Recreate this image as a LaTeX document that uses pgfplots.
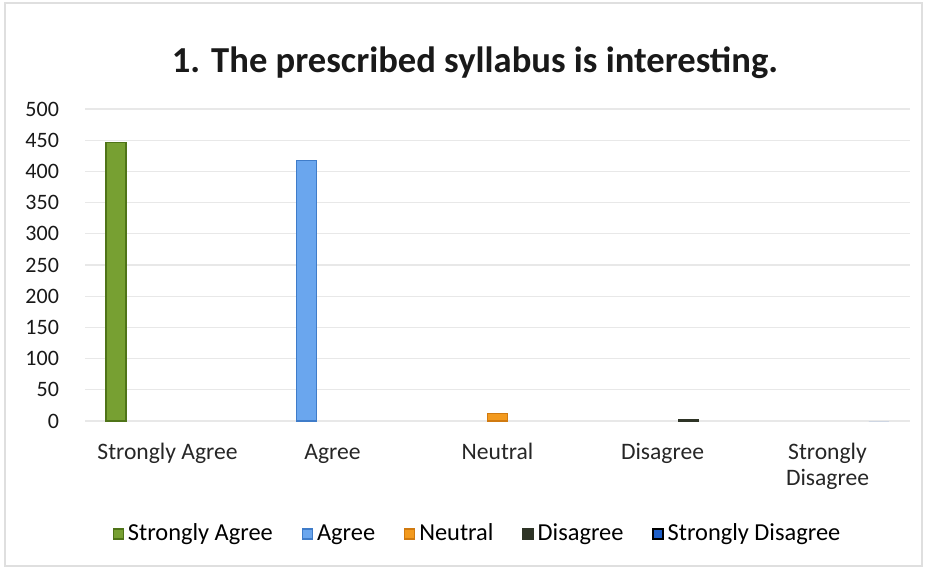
\documentclass[border=0pt]{standalone}
\usepackage{pgfplots}
\pgfplotsset{compat=1.18}
\usepackage{fontspec}
\setmainfont{Carlito}
\definecolor{cSA}{HTML}{77A032}
\definecolor{cSAd}{HTML}{4F7418}
\definecolor{cA}{HTML}{6AA6EE}
\definecolor{cAd}{HTML}{3F7CC9}
\definecolor{cN}{HTML}{F39A1E}
\definecolor{cNd}{HTML}{D07A10}
\definecolor{cD}{HTML}{2E3426}
\definecolor{cSD}{HTML}{1F5FC8}
\begin{document}
\begin{tikzpicture}
\path (-42.5pt,-74.5pt) rectangle (421.5pt,210.5pt);
\draw[gray!25, line width=0.8pt] (-40pt,209pt) rectangle (418.5pt,-72.5pt);
\begin{axis}[
  at={(0pt,0pt)}, anchor=south west,
  scale only axis, width=412.5pt, height=156pt,
  ybar=2.85pt, bar width=10pt,
  xmin=-0.5, xmax=4.5, ymin=0, ymax=500,
  xtick={0,1,2,3,4},
  xticklabels={\strut Strongly Agree, \strut Agree, \strut Neutral, \strut Disagree, {\strut Strongly\\Disagree}},
  xticklabel style={align=center, yshift=-6.5pt, font=\fontsize{11.8pt}{13.2pt}\selectfont, text=black!85},
  ytick={0,50,...,500},
  yticklabel style={xshift=-9.5pt, font=\fontsize{11pt}{13pt}\selectfont, text=black!90},
  /pgf/number format/assume math mode=true,
  major tick length=0pt,
  axis line style={draw=none},
  ymajorgrids, grid style={gray!18, line width=0.6pt},
  legend style={at={(0.477,-0.362)}, anchor=center, draw=none, fill=none,
    legend columns=-1, font=\fontsize{12.2pt}{13pt}\selectfont,
    nodes={inner xsep=2pt},
    /tikz/every even column/.append style={column sep=12.5pt}},
  legend image code/.code={\draw[#1, draw opacity=1] (0pt,-2.5pt) rectangle (5pt,2.5pt);},
]
\addplot[fill=cSA, draw=cSAd, line width=0.6pt] coordinates {(0,446)};
\addplot[fill=cA, draw=cAd, line width=0.6pt] coordinates {(1,418)};
\addplot[fill=cN, draw=cNd, line width=0.6pt] coordinates {(2,12)};
\addplot[fill=cD, draw=cD, line width=0.6pt] coordinates {(3,2)};
\addplot[fill=cSD, draw=none, line width=0.6pt] coordinates {(4,0)};
\legend{Strongly Agree, Agree, Neutral, Disagree, Strongly Disagree}
\end{axis}
\node[font=\fontsize{18.3pt}{21pt}\selectfont\bfseries, text=black!90] at (195pt,179pt) {1. The prescribed syllabus is interesting.};
\end{tikzpicture}
\end{document}
